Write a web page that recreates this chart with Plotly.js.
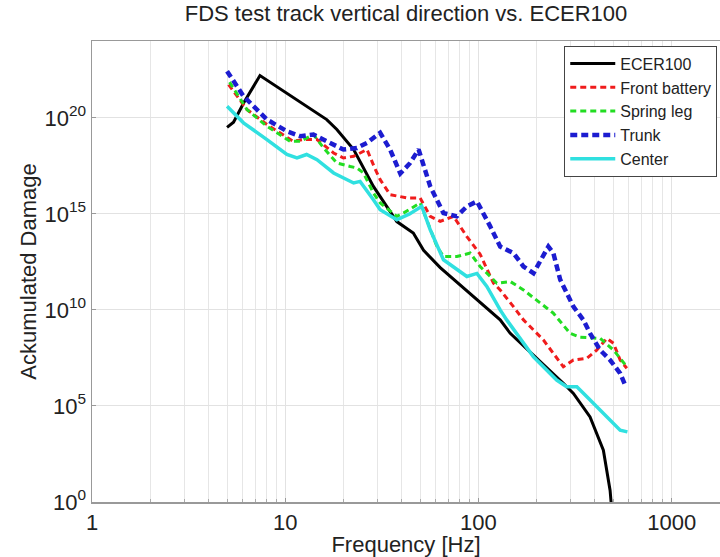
<!DOCTYPE html>
<html>
<head>
<meta charset="utf-8">
<script src="https://cdn.plot.ly/plotly-3.0.1.min.js"></script>
<style>html,body{margin:0;padding:0;background:#fff;}#chart{width:720px;height:557px;}</style>
</head>
<body>
<div id="chart"></div>
<script>
// Series names
const seriesNames = ["ECER100", "Front battery", "Spring leg", "Trunk", "Center"];

// Frequencies [Hz] and log10(Accumulated damage)
const ecerFreq = [5.0, 5.4, 6.1, 7.4, 16.4, 18.5, 22.6, 28.6, 37.8, 46, 52, 63.4, 129.5, 146, 275, 310, 378, 443, 480, 500];
const ecerLogDamage = [19.5, 19.77, 20.78, 22.2, 19.91, 19.39, 18.35, 16.43, 14.6, 14.0, 13.1, 12.2, 9.48, 8.78, 6.18, 5.65, 4.43, 2.7, 0.6, -1.5];

const frontFreq = [5.09, 6.34, 8.04, 11, 12.4, 14.6, 17.8, 20, 22.6, 26.5, 29, 31, 34.9, 42.6, 49.9, 56.3, 63.4, 74.3, 87.1, 102, 119.6, 129.5, 151.7, 171, 217, 275, 310, 364, 409, 462, 500, 541, 586];
const frontLogDamage = [21.73, 20.43, 19.65, 18.78, 18.87, 18.87, 18.17, 17.91, 18.0, 18.35, 17.4, 16.78, 16.0, 15.83, 15.83, 14.87, 14.61, 14.87, 13.82, 12.9, 11.39, 11.04, 10.17, 9.48, 8.43, 7.04, 7.39, 7.48, 7.91, 8.52, 8.26, 7.39, 6.96];

const springFreq = [5.15, 6.34, 8.04, 10.6, 12, 14, 15.8, 18.5, 21.7, 23.5, 25.4, 28.6, 31, 37.8, 40.9, 49.9, 54, 61, 65.9, 77.3, 90.6, 102, 124.5, 146, 171, 208, 244, 298, 336, 426, 500, 586];
const springLogDamage = [21.86, 20.43, 19.56, 18.78, 18.78, 19.13, 18.43, 17.65, 17.47, 17.39, 17.13, 16.09, 15.57, 14.87, 15.04, 15.57, 14.69, 13.3, 12.78, 12.78, 12.96, 12.26, 11.39, 11.48, 11.04, 10.35, 9.83, 8.78, 8.58, 8.52, 7.91, 7.04];

const trunkFreq = [5.0, 6.08, 8.04, 10.2, 12, 14, 16.4, 20, 23.5, 26.5, 31, 34.9, 39.4, 44.3, 49, 56.3, 65.9, 77.3, 87.1, 98.2, 115, 129.5, 151.7, 171, 192.6, 217, 230, 244, 265, 310, 349, 378, 426, 480, 541, 574];
const trunkLogDamage = [22.43, 21.13, 19.91, 19.3, 19.04, 19.13, 18.78, 18.35, 18.43, 18.7, 19.22, 18.35, 17.1, 17.65, 18.35, 16.43, 15.04, 14.87, 15.39, 15.65, 14.35, 13.3, 12.96, 12.26, 11.91, 12.78, 13.3, 12.96, 11.57, 10.17, 9.48, 8.78, 7.91, 7.39, 6.7, 6.09];

const centerFreq = [5.0, 6.08, 8.04, 10.2, 11.5, 12.9, 14.6, 17.8, 22.6, 24.4, 28.6, 31, 37.8, 44, 50.9, 56.3, 65.9, 87.1, 98.2, 110.5, 129.5, 140, 192.6, 254, 286, 323, 364, 462, 541, 590];
const centerLogDamage = [20.6, 19.74, 18.87, 18.09, 17.91, 18.09, 17.82, 17.13, 16.61, 16.69, 15.74, 15.22, 14.69, 15.0, 15.39, 14.17, 12.61, 11.74, 11.9, 11.22, 10.0, 9.48, 7.56, 6.35, 6.0, 6.0, 5.48, 4.43, 3.74, 3.65];

// Axis ticks
const xTickVals = [1, 10, 100, 1000];
const xTickText = ["1", "10", "100", "1000"];
const yTickVals = [1, 1e5, 1e10, 1e15, 1e20];
const yTickText = ["10<sup>0</sup>", "10<sup>5</sup>", "10<sup>10</sup>", "10<sup>15</sup>", "10<sup>20</sup>"];

const toVal = a => a.map(v => Math.pow(10, v));

const traces = [
  {x: ecerFreq, y: toVal(ecerLogDamage), name: seriesNames[0], mode: "lines",
   line: {color: "#000000", width: 3}},
  {x: frontFreq, y: toVal(frontLogDamage), name: seriesNames[1], mode: "lines",
   line: {color: "#f01c1c", width: 3, dash: "6px,4px"}},
  {x: springFreq, y: toVal(springLogDamage), name: seriesNames[2], mode: "lines",
   line: {color: "#22dd22", width: 3, dash: "6px,4px"}},
  {x: trunkFreq, y: toVal(trunkLogDamage), name: seriesNames[3], mode: "lines",
   line: {color: "#1c1cd0", width: 4.5, dash: "7px,4px"}},
  {x: centerFreq, y: toVal(centerLogDamage), name: seriesNames[4], mode: "lines",
   line: {color: "#30e0e0", width: 3.5}}
];

const font = "Liberation Sans, Arial, sans-serif";

const layout = {
  width: 720, height: 557,
  margin: {l: 92, r: 0, t: 41, b: 55},
  paper_bgcolor: "#ffffff",
  plot_bgcolor: "#ffffff",
  font: {family: font, color: "#222"},
  title: {text: "FDS test track vertical direction vs. ECER100", x: 0.5, xref: "paper",
          y: 1 - 13 / 557, yref: "container", yanchor: "middle",
          font: {family: font, size: 22, color: "#222"}},
  xaxis: {
    type: "log", range: [0, 3.25],
    tickvals: xTickVals, ticktext: xTickText,
    ticks: "inside", ticklen: 4, tickcolor: "#999",
    showgrid: true, gridcolor: "#e2e2e2", gridwidth: 1,
    minor: {dtick: "D1", showgrid: true, gridcolor: "#e6e6e6", gridwidth: 1,
            ticks: "inside", ticklen: 3, tickcolor: "#aaa"},
    showline: true, mirror: true, linecolor: "#999", linewidth: 1.5,
    zeroline: false,
    tickfont: {family: font, size: 22, color: "#222"},
    title: {text: "Frequency [Hz]", font: {family: font, size: 22, color: "#222"}, standoff: 4}
  },
  yaxis: {
    type: "log", range: [0, 24],
    tickvals: yTickVals, ticktext: yTickText,
    ticks: "inside", ticklen: 4, tickcolor: "#999",
    showgrid: true, gridcolor: "#e2e2e2", gridwidth: 1,
    showline: true, mirror: true, linecolor: "#999", linewidth: 1.5,
    zeroline: false,
    tickfont: {family: font, size: 22, color: "#222"},
    title: {text: "Ackumulated Damage", font: {family: font, size: 22, color: "#222"}, standoff: 2}
  },
  legend: {
    x: 0.752, y: 0.99, xanchor: "left", yanchor: "top",
    bgcolor: "#ffffff", bordercolor: "#444", borderwidth: 1,
    font: {family: font, size: 16, color: "#222"},
    itemwidth: 45, tracegroupgap: 0
  },
  showlegend: true
};

Plotly.newPlot("chart", traces, layout, {displayModeBar: false, staticPlot: true});
</script>
</body>
</html>
